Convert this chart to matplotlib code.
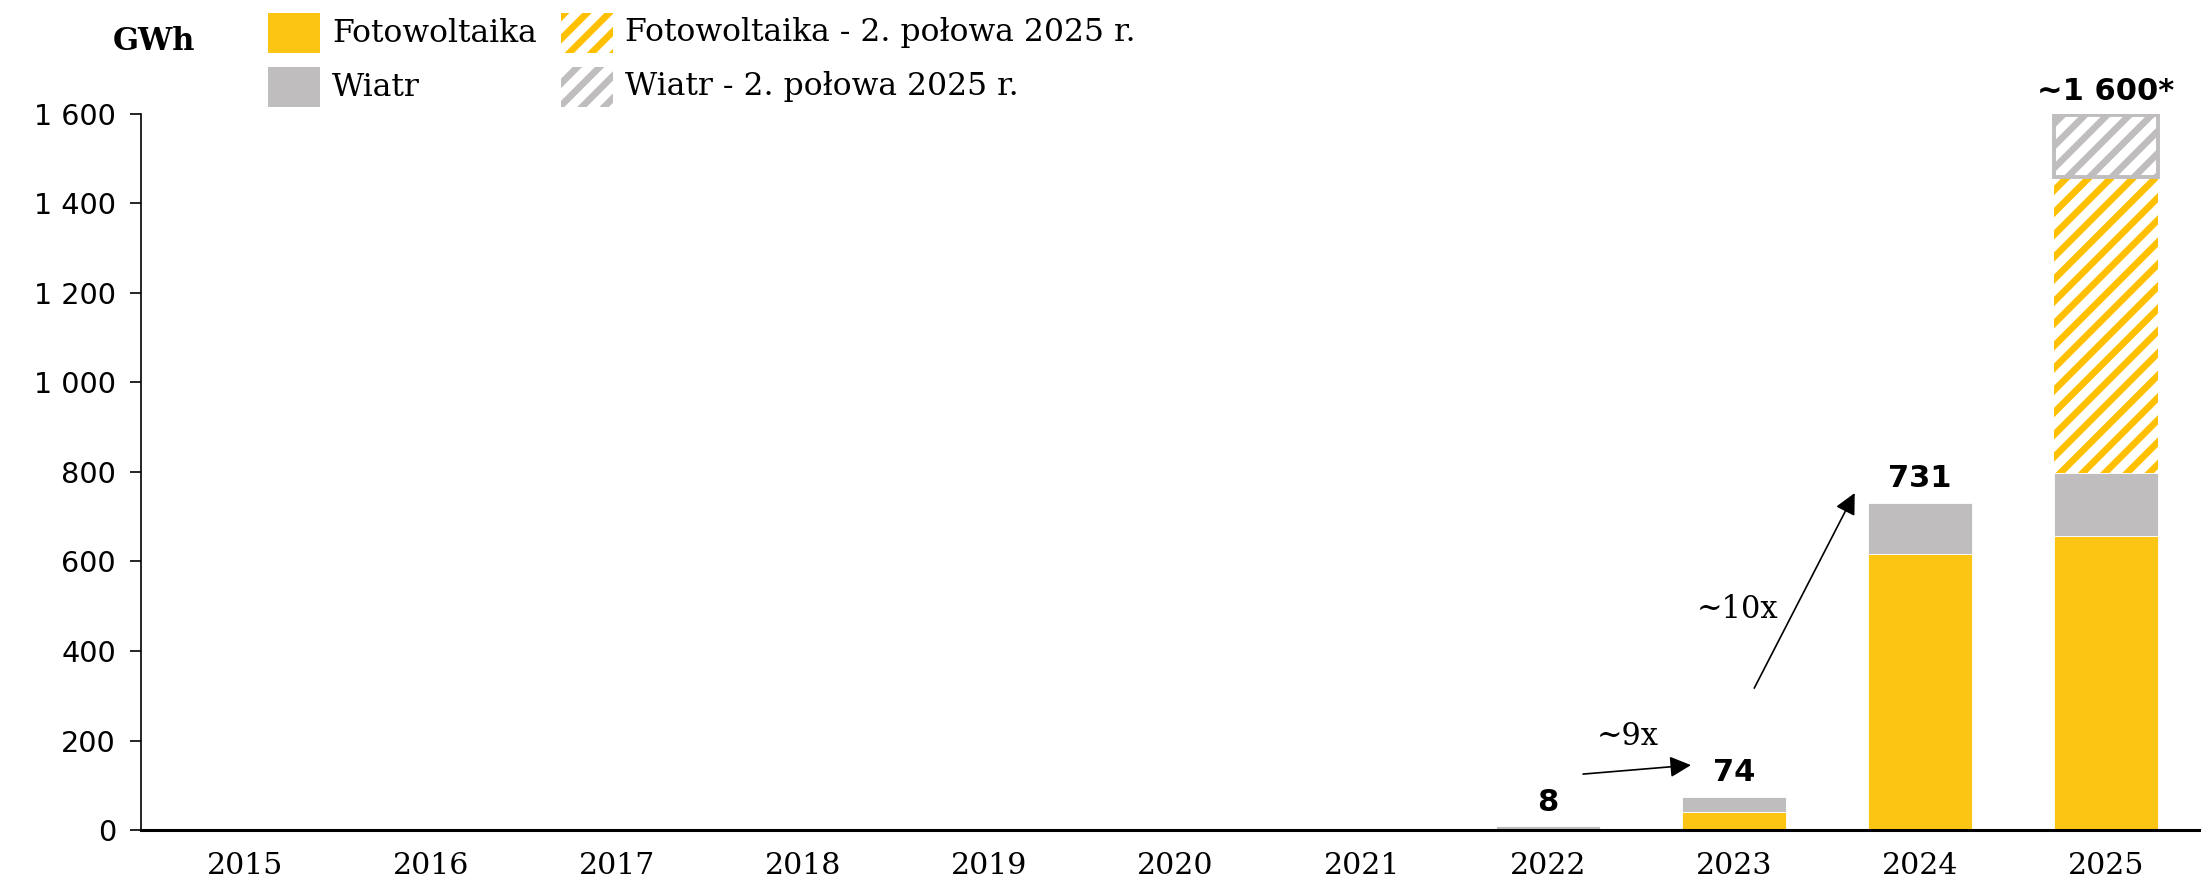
import numpy as np
import matplotlib
matplotlib.use("Agg")
import matplotlib.pyplot as plt
from matplotlib.patches import Rectangle
from matplotlib.ticker import FuncFormatter

# --- dane ---
years = ["2015", "2016", "2017", "2018", "2019", "2020",
         "2021", "2022", "2023", "2024", "2025"]
pv = [0, 0, 0, 0, 0, 0, 0, 0, 40, 617, 658]
wind = [0, 0, 0, 0, 0, 0, 0, 8, 34, 114, 139]
pv_h2 = [0, 0, 0, 0, 0, 0, 0, 0, 0, 0, 663]
wind_h2 = [0, 0, 0, 0, 0, 0, 0, 0, 0, 0, 137]
total_labels = ["", "", "", "", "", "", "", "8", "74", "731", "~1 600*"]

YELLOW = "#FCC513"
YELLOW_H = "#FFC000"
GRAY = "#BFBDBE"

plt.rcParams["font.family"] = ["DejaVu Serif"]
plt.rcParams["hatch.linewidth"] = 2.4

fig = plt.figure(figsize=(11.05, 4.4), dpi=200)
ax = fig.add_axes([0.0638, 0.0568, 0.9312, 0.8137])

x = np.arange(len(years))
pv_a = np.array(pv)
wind_a = np.array(wind)
pvh_a = np.array(pv_h2)
windh_a = np.array(wind_h2)
w = 0.56


def stack(vals, bottom, **kw):
    # rysuje tylko niezerowe segmenty, żeby nie zostawiać kresek na osi
    m = vals > 0
    ax.bar(x[m], vals[m], w, bottom=bottom[m], **kw)


zero = np.zeros_like(pv_a)
stack(pv_a, zero, color=YELLOW, edgecolor="white", linewidth=0.3)
stack(wind_a, pv_a, color=GRAY, edgecolor="white", linewidth=0.3)
stack(pvh_a, pv_a + wind_a, color="white", edgecolor=YELLOW_H,
      hatch="///", linewidth=0)
stack(windh_a, pv_a + wind_a + pvh_a, color="white", edgecolor=GRAY,
      hatch="///", linewidth=1.4)

tops = pv_a + wind_a + pvh_a + windh_a
for xi, t, lab in zip(x, tops, total_labels):
    if lab:
        ax.annotate(lab, (xi, t), xytext=(0, 3.5), textcoords="offset points",
                    ha="center", va="bottom", fontsize=11, fontweight="bold",
                    family="DejaVu Sans", annotation_clip=False)

# strzałki wzrostu
arrow = dict(arrowstyle="-|>", lw=0.6, color="black", mutation_scale=16,
             shrinkA=0, shrinkB=0)
ax.annotate("", xy=(7.77, 145), xytext=(7.19, 125), arrowprops=arrow)
ax.text(7.43, 208, "~9x", ha="center", va="center", fontsize=11)
ax.annotate("", xy=(8.65, 753), xytext=(8.11, 317), arrowprops=arrow)
ax.text(8.02, 492, "~10x", ha="center", va="center", fontsize=11)

ax.set_xlim(-0.56, 10.5)
ax.set_ylim(0, 1600)
ax.set_yticks(np.arange(0, 1601, 200))
ax.yaxis.set_major_formatter(FuncFormatter(lambda v, p: f"{int(v):,}".replace(",", " ")))
ax.set_xticks(x)
ax.set_xticklabels(years, fontsize=10.8)
for lbl in ax.get_yticklabels():
    lbl.set_family("DejaVu Sans")
    lbl.set_fontsize(10.3)
ax.tick_params(axis="x", length=0, pad=8)
ax.tick_params(axis="y", length=4, width=0.6, direction="out", pad=5)
for s in ["top", "right"]:
    ax.spines[s].set_visible(False)
ax.spines["left"].set_linewidth(0.6)
ax.spines["bottom"].set_linewidth(1.1)

fig.text(154 / 2210, 1 - 42 / 880, "GWh", ha="center", va="center",
         fontsize=11, fontweight="bold")

# legenda
W, H = 2210, 880
legend_items = [
    (268, 13, YELLOW, None, "Fotowoltaika"),
    (268, 67, GRAY, None, "Wiatr"),
    (561, 13, YELLOW_H, "///", "Fotowoltaika - 2. połowa 2025 r."),
    (561, 67, GRAY, "///", "Wiatr - 2. połowa 2025 r."),
]
for lx, ly, col, hatch, txt in legend_items:
    if hatch:
        r = Rectangle((lx / W, 1 - (ly + 40) / H), 52 / W, 40 / H,
                      transform=fig.transFigure, facecolor="white",
                      edgecolor=col, hatch=hatch, linewidth=0)
    else:
        r = Rectangle((lx / W, 1 - (ly + 40) / H), 52 / W, 40 / H,
                      transform=fig.transFigure, facecolor=col,
                      edgecolor="none")
    fig.patches.append(r)
    fig.text((lx + 64) / W, 1 - (ly + 20) / H, txt, ha="left", va="center",
             fontsize=11.3)

fig.savefig("out.png", dpi=200)
